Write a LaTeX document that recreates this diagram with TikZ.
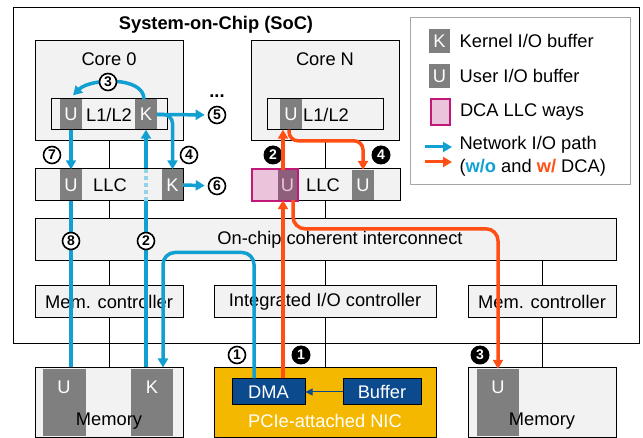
\documentclass[tikz,border=0pt]{standalone}
\usepackage{fontspec}
\setmainfont{Liberation Sans}
\usetikzlibrary{arrows.meta,positioning,backgrounds}

\definecolor{boxgray}{HTML}{F2F2F2}
\definecolor{bufgray}{HTML}{7F7F7F}
\definecolor{legendgray}{HTML}{A6A6A6}
\definecolor{dcapink}{HTML}{EBC3DB}
\definecolor{dcaedge}{HTML}{C2187A}
\definecolor{dcabuf}{HTML}{8E5F7A}
\definecolor{nicyellow}{HTML}{F5B800}
\definecolor{dmablue}{HTML}{0B4A8C}
\definecolor{woblue}{HTML}{12A0D2}
\definecolor{wred}{HTML}{FF4F14}

\tikzset{
  box/.style={draw, fill=boxgray, line width=1pt, inner sep=0pt},
  buf/.style={fill=bufgray, text=white, inner sep=0pt, minimum width=22pt, minimum height=30pt},
  wopath/.style={draw=woblue, line width=3.5pt, -{Triangle[length=9pt,width=10pt]}},
  wpath/.style={draw=wred, line width=3.5pt, -{Triangle[length=9pt,width=10pt]}},
  wonum/.style={circle, draw, fill=white, line width=1.6pt, inner sep=0pt, minimum size=17pt, font=\fontsize{14}{14}\selectfont\bfseries},
  wnum/.style={circle, fill=black, text=white, inner sep=0pt, minimum size=19pt, font=\fontsize{14}{14}\selectfont\bfseries},
}

\begin{document}
\begin{tikzpicture}[x=1pt, y=-1pt, font=\fontsize{18.3}{21}\selectfont]

    \useasboundingbox (0,0) rectangle (643,438);

    %%%%%%%%%%%%%%%%%%
    %%%%% SoC    %%%%%
    %%%%%%%%%%%%%%%%%%
    \node[draw, line width=1pt, minimum width=626pt, minimum height=336pt, anchor=north west] (soc) at (13,7) {};
    \node[font=\fontsize{18.3}{21}\selectfont\bfseries] (title) at (216,25) {System-on-Chip (SoC)};

    % Core 0 with its private cache
    \node[box, minimum width=148pt, minimum height=100pt] (core0) at (109,91) {};
    \node (core0lbl) at (109,59) {Core 0};
    \node[box, minimum width=116pt, minimum height=31pt] (l1a) at (109,114.5) {L1/L2};
    \node[buf] (u1) at (71,114.5) {U};
    \node[buf] (k1) at (146,114.5) {K};
    \node[font=\fontsize{18.3}{21}\selectfont\bfseries] (dots) at (217,96) {...};

    % Shared LLC (left)
    \node[box, minimum width=148pt, minimum height=32pt] (llc0) at (109,185) {};
    \node (llc0lbl) at (110,185) {LLC};
    \node[buf, minimum height=31pt] (u2) at (71,185) {U};
    \node[buf, minimum width=21pt, minimum height=31pt] (k2) at (172.5,185) {K};

    % Core N with its private cache
    \node[box, minimum width=148pt, minimum height=100pt] (coren) at (325,91) {};
    \node (corenlbl) at (325,59) {Core N};
    \node[box, minimum width=116pt, minimum height=31pt] (l1n) at (325,114.5) {};
    \node (l1nlbl) at (326,114.5) {L1/L2};
    \node[buf] (un) at (291,114.5) {U};

    % Shared LLC (right) with the DCA ways
    \node[box, minimum width=148pt, minimum height=32pt] (llcn) at (326,185) {};
    \node[fill=dcapink, minimum width=46pt, minimum height=32pt, inner sep=0pt] (dca) at (275,185) {};
    \node[buf, fill=dcabuf, text=dcapink, minimum width=20pt] (du) at (287.5,185) {U};
    \draw[dcaedge, line width=2pt] (dca.north west) rectangle (dca.south east);
    \node (llcnlbl) at (323,185) {LLC};
    \node[buf] (u3) at (363,185) {U};

    % Interconnect and controllers
    \node[box, minimum width=581pt, minimum height=42pt] (ic) at (325.5,240) {};
    \node (iclbl) at (340,240) {On-chip coherent interconnect};
    \node[box, minimum width=148pt, minimum height=32pt] (mc0) at (109,302) {Mem. controller};
    \node[box, minimum width=222pt, minimum height=32pt] (iio) at (325,302) {Integrated I/O controller};
    \node[box, minimum width=148pt, minimum height=32pt] (mc1) at (542,302) {Mem. controller};

    %%%%%%%%%%%%%%%%%%
    %%%%% Off-chip %%%
    %%%%%%%%%%%%%%%%%%

    % Memory (left)
    \node[box, minimum width=148pt, minimum height=69pt] (mem0) at (109,402.5) {};
    \node[fill=bufgray, minimum width=43pt, minimum height=67pt, inner sep=0pt] (mu0) at (64.5,402.5) {};
    \node[fill=bufgray, minimum width=42pt, minimum height=67pt, inner sep=0pt] (mk0) at (152,402.5) {};
    \node[text=white] at (64,387) {U};
    \node[text=white] at (152,387) {K};
    \node (mem0lbl) at (109,421) {Memory};

    % NIC
    \node[draw, fill=nicyellow, line width=1pt, minimum width=222pt, minimum height=69pt] (nic) at (325,402.5) {};
    \node[draw, fill=dmablue, text=white, line width=1pt, minimum width=73pt, minimum height=26pt, inner sep=0pt] (dma) at (268.5,392) {DMA};
    \node[draw, fill=dmablue, text=white, line width=1pt, minimum width=78pt, minimum height=26pt, inner sep=0pt] (nbuf) at (382,392) {Buffer};
    \draw[dmablue, line width=1pt, -{Triangle[length=7pt,width=7pt]}] (nbuf) -- (dma);
    \node[text=white] (niclbl) at (325,421) {PCIe-attached NIC};

    % Memory (right)
    \node[box, minimum width=148pt, minimum height=69pt] (mem1) at (542,402.5) {};
    \node[fill=bufgray, minimum width=42pt, minimum height=67pt, inner sep=0pt] (mu1) at (498,402.5) {};
    \node[text=white] at (498,387) {U};
    \node (mem1lbl) at (542,421) {Memory};

    % Wires behind the blocks
    \begin{scope}[on background layer]
        \draw[line width=1pt] (core0.south) -- (mem0.north);
        \draw[line width=1pt] (coren.south) -- (nic.north);
        \draw[line width=1pt] (mc1.north |- ic.south) -- (mem1.north);
    \end{scope}

    %%%%%%%%%%%%%%%%%%
    %%%%% Legend %%%%%
    %%%%%%%%%%%%%%%%%%
    \node[draw=legendgray, fill=white, line width=1pt, minimum width=220pt, minimum height=167pt] (legend) at (520,101.5) {};
    \node[buf, minimum width=21pt, minimum height=24pt] (lk) at (439.5,41) {K};
    \node[right=6pt of lk] (lktxt) {Kernel I/O buffer};
    \node[buf, minimum width=21pt, minimum height=24pt] (lu) at (439.5,76) {U};
    \node[right=6pt of lu] (lutxt) {User I/O buffer};
    \node[draw=dcaedge, fill=dcapink, line width=2pt, minimum width=19pt, minimum height=26pt, inner sep=0pt] (ld) at (440,112.5) {};
    \node[right=6pt of ld] (ldtxt) {DCA LLC ways};
    \coordinate (lb) at (425,147);
    \coordinate (lr) at (425,162);
    \draw[wopath, line width=3pt] (lb) -- ++(27,0);
    \draw[wpath, line width=3pt] (lr) -- ++(27,0);
    \node[anchor=west] (lptxt) at (456,145) {Network I/O path};
    \node[anchor=west] (lctxt) at (456,168) {(\textcolor{woblue}{\textbf{w/o}} and \textcolor{wred}{\textbf{w/}} DCA)};

    %%%%%%%%%%%%%%%%%%
    %%%%% w/o DCA %%%%
    %%%%%%%%%%%%%%%%%%
    \node[wonum] (n1) at (237,355) {1};
    \node[wonum] (n5) at (217,115) {5};
    \node[wonum] (n6) at (217,186) {6};
    \node[wonum] (n4) at (189,155) {4};
    \node[wonum] (n7) at (52,155) {7};

    % NIC to kernel buffer
    \draw[wopath, rounded corners=12pt] ([xshift=-14.5pt]dma.north) -- ++(0,-126) -| ([xshift=54pt]mem0.north);

    % Kernel buffer up to the core (dashed through the LLC)
    \draw[wopath, -] (k1.south |- mem0.north) -- (k1.south |- llc0.south);
    \draw[woblue!45, line width=3.5pt, dash pattern=on 4pt off 3pt] (k1.south |- llc0.south) -- (k1.south |- llc0.north);
    \draw[wopath] (k1.south |- llc0.north) -- (k1.south);

    % Copy from K to U
    \draw[wopath] ([xshift=-2pt]k1.north) .. controls +(0,-23.5) and +(17,-17) .. ([xshift=2pt,yshift=4pt]u1.north);
    \node[wonum] (n3) at (108,82) {3};

    % Write back and leave
    \draw[wopath, shorten >=3pt] (k1.east) -- (n5);
    \draw[wopath, rounded corners=9pt] (k1.east) -| (k2.north);
    \draw[wopath, shorten >=3pt] (k2.east) -- (n6);
    \draw[wopath] (u1.south) -- (u2.north);
    \draw[woblue, line width=3.5pt] (u2.south) -- (u2.south |- mem0.north);

    \node[wonum] (n8) at (71,241) {8};
    \node[wonum] (n2) at (146,241) {2};

    %%%%%%%%%%%%%%%%%%
    %%%%% w/ DCA %%%%%
    %%%%%%%%%%%%%%%%%%
    \node[wnum] (d1) at (301,355) {1};
    \node[wnum] (d2) at (273,155) {2};
    \node[wnum] (d3) at (480,355) {3};
    \node[wnum] (d4) at (381,155) {4};

    % NIC straight into the DCA ways
    \draw[wpath] ([xshift=14.5pt]dma.north) -- ([xshift=14.5pt]dma.north |- du.south);
    \draw[wpath] ([xshift=-4.5pt]du.north) -- ([xshift=-4.5pt]du.north |- un.south);
    \draw[wpath, rounded corners=9pt] ([xshift=-2pt]un.south) |- ([yshift=29pt]u3.north) -- (u3.north);
    \draw[wpath, rounded corners=12pt] ([xshift=5.5pt]du.south) |- ([yshift=140pt]mu1.north) -- (mu1.north);

\end{tikzpicture}
\end{document}
